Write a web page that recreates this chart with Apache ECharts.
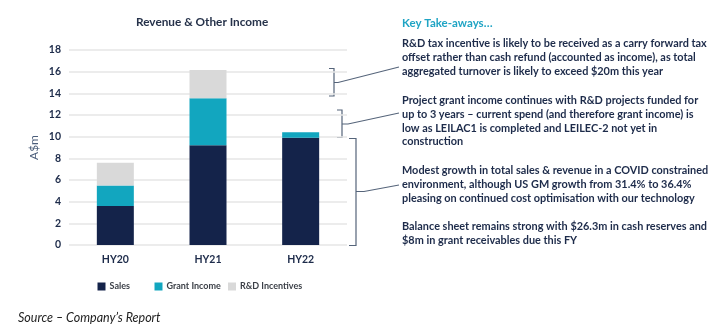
<!DOCTYPE html>
<html>
<head>
<meta charset="utf-8">
<script src="https://cdn.jsdelivr.net/npm/echarts@6/dist/echarts.min.js"></script>
<style>
html,body{margin:0;padding:0;background:#fff;}
#c{width:723px;height:333px;}
</style>
</head>
<body>
<div id="c"></div>
<script>
const categories = ['HY20', 'HY21', 'HY22'];
const sales = [3.6, 9.2, 9.9];
const grantIncome = [1.9, 4.35, 0.5];
const rdIncentives = [2.1, 2.6, 0];
const yTicks = { min: 0, max: 18, interval: 2 };

const chartTitle = 'Revenue & Other Income';
const yAxisName = 'A$m';
const takeawaysHeading = 'Key Take-aways…';
const para1 = ['R&D tax incentive is likely to be received as a carry forward tax',
  'offset rather than cash refund (accounted as income), as total',
  'aggregated turnover is likely to exceed $20m this year'];
const para2 = ['Project grant income continues with R&D projects funded for',
  'up to 3 years – current spend (and therefore grant income) is',
  'low as LEILAC1 is completed and LEILEC-2 not yet in',
  'construction'];
const para3 = ['Modest growth in total sales & revenue in a COVID constrained',
  'environment, although US GM growth from 31.4% to 36.4%',
  'pleasing on continued cost optimisation with our technology'];
const para4 = ['Balance sheet remains strong with $26.3m in cash reserves and',
  '$8m in grant receivables due this FY'];
const sourceNote = 'Source – Company’s Report';

const FONT = 'Lato';
const NAVY = '#14234a';
const TEAL = '#12a6bf';
const GREY = '#d9d9d9';
const TEXT = '#1d2b4a';
const BR = '#55647a';

function para(lines, top) {
  return {
    type: 'text', left: 402, top: top,
    style: { text: lines.join('\n'), font: 'bold 10.9px ' + FONT, fill: TEXT, lineHeight: 13.8 }
  };
}
function bracket(xs, xv, y1, y2, ym, tipX, lx, ly) {
  return [{
    type: 'polyline',
    shape: { points: [[xs, y1], [xv, y1], [xv, y2], [xs, y2]] },
    style: { stroke: BR, lineWidth: 1.2, fill: null }
  }, {
    type: 'polyline',
    shape: { points: [[xv, ym], [tipX, ym], [lx, ly]] },
    style: { stroke: BR, lineWidth: 1.1, fill: null }
  }];
}

const chart = echarts.init(document.getElementById('c'), null, { renderer: 'canvas' });
const legendBase = {
  top: 282, padding: 0, itemWidth: 8, itemHeight: 8, icon: 'rect',
  textStyle: { fontFamily: FONT, fontWeight: 'bold', fontSize: 9, color: '#3c4048', padding: [0, 0, 0, -1] },
  selectedMode: false
};
chart.setOption({
  animation: false,
  textStyle: { fontFamily: FONT },
  title: {
    text: chartTitle, left: 136, top: 16, padding: 0,
    textStyle: { fontFamily: FONT, fontSize: 11.8, fontWeight: 'bold', color: '#26324a' }
  },
  legend: [
    Object.assign({}, legendBase, { left: 97.5, data: ['Sales'] }),
    Object.assign({}, legendBase, { left: 154.5, data: ['Grant Income'] }),
    Object.assign({}, legendBase, { left: 228, data: ['R&D Incentives'] })
  ],
  grid: { left: 69, right: 376, top: 50, bottom: 88, containLabel: false },
  xAxis: {
    type: 'category', data: categories,
    axisLine: { show: false }, axisTick: { show: false },
    axisLabel: { color: TEXT, fontWeight: 'bold', fontSize: 10.5, margin: 9, fontFamily: FONT }
  },
  yAxis: {
    type: 'value', min: yTicks.min, max: yTicks.max, interval: yTicks.interval,
    name: yAxisName, nameLocation: 'middle', nameGap: 29, nameRotate: 90,
    nameTextStyle: { color: '#4a5d7a', fontSize: 12, fontFamily: FONT },
    axisLine: { show: false }, axisTick: { show: false },
    axisLabel: { color: TEXT, fontWeight: 'bold', fontSize: 10.5, margin: 8, fontFamily: FONT },
    splitLine: { lineStyle: { color: '#e6e6e6', width: 1.5 } }
  },
  series: [
    { name: 'Sales', type: 'bar', stack: 't', data: sales, barWidth: 37, itemStyle: { color: NAVY } },
    { name: 'Grant Income', type: 'bar', stack: 't', data: grantIncome, barWidth: 37, itemStyle: { color: TEAL } },
    { name: 'R&D Incentives', type: 'bar', stack: 't', data: rdIncentives, barWidth: 37, itemStyle: { color: GREY } }
  ],
  graphic: [
    { type: 'text', left: 402, top: 17, style: { text: takeawaysHeading, font: 'bold 11.5px ' + FONT, fill: '#1fa4c4' } },
    para(para1, 37),
    para(para2, 93.5),
    para(para3, 163.5),
    para(para4, 219.5),
    { type: 'text', left: 18, top: 311, style: { text: sourceNote, font: 'italic 12.5px ' + FONT, fill: '#222' } }
  ].concat(
    bracket(329, 334, 68.5, 96, 82.5, 338, 399, 67),
    bracket(337, 342, 110, 137.5, 124, 348, 399, 113),
    bracket(349, 356, 138.5, 245.5, 191.5, 364, 399, 185)
  )
});
</script>
</body>
</html>
